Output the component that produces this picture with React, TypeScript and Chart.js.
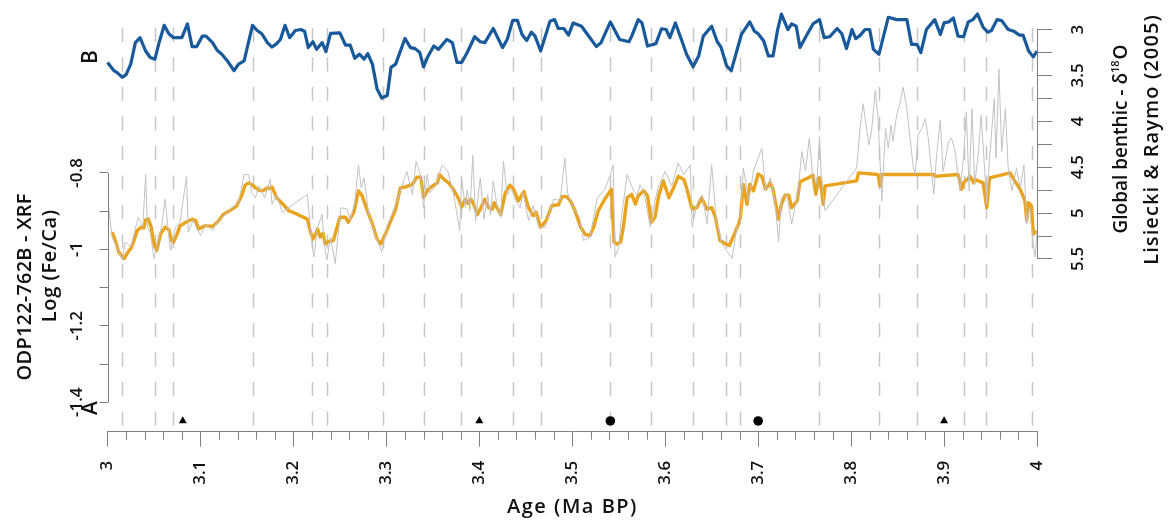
import React, { useEffect, useRef } from 'react';
import { Chart, registerables } from 'chart.js';

Chart.register(...registerables);

const W = 1173;
const H = 524;

// ---- axis ticks ----
const ageTicks = [3, 3.1, 3.2, 3.3, 3.4, 3.5, 3.6, 3.7, 3.8, 3.9, 4];
const ageTickLabels = ['3', '3.1', '3.2', '3.3', '3.4', '3.5', '3.6', '3.7', '3.8', '3.9', '4'];
const ageMinorTicks = [3.02, 3.04, 3.06, 3.08, 3.12, 3.14, 3.16, 3.18, 3.22, 3.24, 3.26, 3.28, 3.32, 3.34, 3.36, 3.38, 3.42, 3.44, 3.46, 3.48, 3.52, 3.54, 3.56, 3.58, 3.62, 3.64, 3.66, 3.68, 3.72, 3.74, 3.76, 3.78, 3.82, 3.84, 3.86, 3.88, 3.92, 3.94, 3.96, 3.98];
const feTicks = [-1.4, -1.3, -1.2, -1.1, -1.0, -0.9, -0.8];
const feTickLabels = ['-1.4', '', '-1.2', '', '-1', '', '-0.8'];
const d18oTicks = [3, 3.25, 3.5, 3.75, 4, 4.25, 4.5, 4.75, 5, 5.25, 5.5];
const d18oTickLabels = ['3', '', '3.5', '', '4', '', '4.5', '', '5', '', '5.5'];

// ---- vertical dashed reference lines (ages, Ma) ----
const dashAges = [3.016, 3.051, 3.070, 3.156, 3.220, 3.236, 3.296, 3.340, 3.380, 3.436, 3.466, 3.541, 3.585, 3.630, 3.665, 3.681, 3.765, 3.830, 3.871, 3.921, 3.945, 3.995];

// ---- age-control markers ----
const triangleAges = [3.081, 3.400, 3.900];
const circleAges = [3.541, 3.700];
const markerLevel = -1.449;

// ---- B: global benthic d18O (Lisiecki & Raymo 2005) ----
const d18oAge = [3.000,3.007,3.010,3.016,3.020,3.025,3.030,3.035,3.041,3.046,
3.051,3.055,3.061,3.066,3.071,3.080,3.086,3.091,3.096,3.102,
3.106,3.113,3.118,3.123,3.129,3.136,3.141,3.147,3.156,3.161,
3.166,3.172,3.177,3.182,3.186,3.191,3.196,3.202,3.208,3.212,
3.216,3.221,3.225,3.231,3.235,3.240,3.250,3.256,3.261,3.266,
3.271,3.276,3.280,3.285,3.290,3.295,3.301,3.305,3.310,3.320,
3.326,3.331,3.336,3.340,3.345,3.351,3.356,3.365,3.371,3.376,
3.381,3.387,3.395,3.401,3.406,3.415,3.425,3.430,3.436,3.441,
3.446,3.451,3.456,3.460,3.466,3.476,3.481,3.485,3.491,3.496,
3.501,3.510,3.519,3.526,3.531,3.541,3.551,3.561,3.564,3.571,
3.575,3.581,3.590,3.596,3.601,3.605,3.611,3.618,3.623,3.630,
3.636,3.641,3.650,3.656,3.660,3.666,3.671,3.677,3.682,3.691,
3.696,3.700,3.706,3.711,3.716,3.721,3.725,3.732,3.736,3.741,
3.745,3.752,3.759,3.766,3.771,3.777,3.785,3.790,3.795,3.801,
3.805,3.810,3.815,3.820,3.824,3.830,3.840,3.849,3.860,3.865,
3.871,3.875,3.881,3.890,3.896,3.900,3.905,3.910,3.915,3.921,
3.926,3.931,3.936,3.942,3.947,3.951,3.957,3.962,3.969,3.975,
3.981,3.985,3.991,3.996,4.000];
const d18oValue = [3.359,3.449,3.467,3.520,3.492,3.377,3.143,3.089,3.234,3.305,
3.323,3.162,2.954,3.046,3.089,3.089,2.939,3.186,3.186,3.072,
3.072,3.143,3.226,3.269,3.342,3.449,3.377,3.342,2.954,3.011,
3.046,3.143,3.191,3.154,3.108,2.954,3.089,3.011,3.000,3.018,
3.197,3.133,3.216,3.143,3.240,3.043,3.036,3.169,3.169,3.313,
3.269,3.323,3.262,3.377,3.647,3.747,3.719,3.413,3.377,3.097,
3.197,3.208,3.251,3.406,3.288,3.180,3.216,3.108,3.143,3.359,
3.359,3.251,3.079,3.133,3.143,2.989,3.197,3.108,2.900,2.900,
3.054,3.119,3.029,3.072,3.234,2.911,2.892,2.989,2.989,3.061,
2.928,2.964,3.089,3.186,3.143,2.917,3.108,3.133,3.072,2.892,
2.928,3.180,3.154,2.992,3.000,3.089,2.928,3.126,3.269,3.406,
3.288,3.072,2.964,3.133,3.191,3.395,3.449,3.234,3.054,2.917,
3.018,3.046,3.126,3.288,3.288,3.000,2.831,3.000,2.939,2.964,
3.197,3.065,2.939,2.892,3.089,3.079,2.989,3.046,3.208,3.000,
3.100,3.061,3.000,3.000,3.216,3.269,2.867,2.892,2.892,3.162,
3.162,3.251,3.000,2.892,3.054,2.928,2.917,2.874,3.072,3.079,
2.917,2.892,2.831,2.975,3.029,3.011,2.892,2.903,3.000,3.018,
3.061,3.061,3.234,3.298,3.234];

// ---- A: ODP122-762B XRF log(Fe/Ca), smoothed ----
const feSmoothAge = [3.005,3.009,3.012,3.018,3.021,3.025,3.028,3.032,3.036,3.039,
3.041,3.044,3.047,3.050,3.053,3.057,3.062,3.066,3.069,3.071,
3.075,3.078,3.086,3.091,3.095,3.098,3.105,3.113,3.118,3.125,
3.132,3.139,3.145,3.148,3.152,3.157,3.163,3.168,3.172,3.175,
3.177,3.182,3.188,3.195,3.204,3.215,3.218,3.221,3.224,3.226,
3.229,3.232,3.234,3.238,3.243,3.247,3.250,3.256,3.259,3.265,
3.270,3.274,3.279,3.285,3.290,3.294,3.299,3.304,3.310,3.315,
3.320,3.328,3.333,3.337,3.340,3.345,3.351,3.355,3.357,3.362,
3.367,3.372,3.378,3.381,3.385,3.388,3.391,3.394,3.398,3.401,
3.406,3.410,3.414,3.416,3.419,3.423,3.428,3.433,3.437,3.442,
3.448,3.453,3.458,3.461,3.466,3.472,3.478,3.482,3.485,3.489,
3.494,3.498,3.503,3.509,3.514,3.519,3.523,3.528,3.535,3.542,
3.545,3.548,3.552,3.555,3.559,3.564,3.568,3.571,3.577,3.581,
3.585,3.589,3.593,3.598,3.604,3.609,3.614,3.620,3.623,3.629,
3.634,3.639,3.645,3.650,3.654,3.659,3.665,3.669,3.673,3.679,
3.681,3.684,3.688,3.691,3.695,3.700,3.704,3.708,3.713,3.716,
3.722,3.725,3.729,3.733,3.736,3.742,3.745,3.752,3.759,3.762,
3.765,3.767,3.770,3.772,3.806,3.808,3.829,3.831,3.833,3.889,
3.890,3.915,3.919,3.921,3.928,3.932,3.933,3.942,3.946,3.949,
3.971,3.976,3.982,3.987,3.989,3.991,3.994,3.996,3.999];
const feSmooth = [-0.955,-0.981,-1.007,-1.024,-1.011,-0.998,-0.981,-0.951,-0.942,-0.944,
-0.923,-0.921,-0.942,-0.986,-1.003,-0.960,-0.942,-0.949,-0.977,-0.981,
-0.960,-0.938,-0.927,-0.921,-0.925,-0.947,-0.938,-0.940,-0.929,-0.908,
-0.898,-0.886,-0.856,-0.832,-0.826,-0.834,-0.846,-0.846,-0.839,-0.841,
-0.837,-0.865,-0.880,-0.899,-0.908,-0.921,-0.951,-0.973,-0.960,-0.947,
-0.968,-0.958,-0.986,-0.979,-0.977,-0.942,-0.916,-0.916,-0.929,-0.903,
-0.847,-0.860,-0.895,-0.934,-0.973,-0.986,-0.960,-0.929,-0.895,-0.839,
-0.837,-0.830,-0.811,-0.811,-0.865,-0.843,-0.832,-0.826,-0.804,-0.817,
-0.826,-0.843,-0.869,-0.889,-0.869,-0.880,-0.869,-0.882,-0.909,-0.895,
-0.869,-0.891,-0.895,-0.878,-0.891,-0.909,-0.852,-0.832,-0.843,-0.873,
-0.849,-0.891,-0.912,-0.903,-0.942,-0.925,-0.886,-0.884,-0.884,-0.862,
-0.862,-0.873,-0.899,-0.942,-0.961,-0.964,-0.942,-0.899,-0.869,-0.843,
-0.981,-0.986,-0.981,-0.942,-0.865,-0.856,-0.882,-0.860,-0.847,-0.860,
-0.929,-0.916,-0.860,-0.821,-0.865,-0.839,-0.809,-0.817,-0.839,-0.895,
-0.891,-0.865,-0.895,-0.891,-0.916,-0.977,-0.986,-0.990,-0.968,-0.934,
-0.916,-0.830,-0.882,-0.830,-0.847,-0.803,-0.809,-0.843,-0.826,-0.843,
-0.921,-0.882,-0.858,-0.858,-0.891,-0.873,-0.823,-0.815,-0.806,-0.856,
-0.813,-0.815,-0.882,-0.834,-0.821,-0.800,-0.804,-0.834,-0.804,-0.804,
-0.809,-0.804,-0.843,-0.826,-0.809,-0.826,-0.817,-0.826,-0.891,-0.813,
-0.800,-0.821,-0.843,-0.873,-0.925,-0.878,-0.886,-0.960,-0.951];

// ---- A: raw XRF log(Fe/Ca) ----
const feRawAge = [3.001,3.005,3.010,3.016,3.019,3.025,3.029,3.033,3.038,3.041,
3.043,3.046,3.050,3.054,3.058,3.062,3.066,3.068,3.073,3.078,
3.085,3.087,3.092,3.100,3.106,3.113,3.119,3.127,3.134,3.141,
3.147,3.152,3.155,3.159,3.163,3.169,3.175,3.177,3.182,3.188,
3.215,3.220,3.222,3.226,3.231,3.233,3.236,3.240,3.245,3.251,
3.258,3.261,3.266,3.270,3.273,3.276,3.281,3.287,3.295,3.301,
3.306,3.315,3.322,3.328,3.332,3.337,3.340,3.344,3.347,3.353,
3.360,3.366,3.372,3.379,3.381,3.385,3.387,3.390,3.393,3.396,
3.401,3.405,3.409,3.412,3.415,3.419,3.423,3.426,3.430,3.435,
3.439,3.444,3.447,3.453,3.458,3.464,3.471,3.480,3.487,3.492,
3.495,3.501,3.508,3.512,3.519,3.527,3.535,3.541,3.544,3.546,
3.550,3.553,3.559,3.566,3.570,3.573,3.577,3.584,3.589,3.593,
3.600,3.607,3.614,3.620,3.627,3.629,3.634,3.640,3.645,3.650,
3.655,3.661,3.666,3.672,3.677,3.681,3.684,3.690,3.695,3.700,
3.704,3.708,3.713,3.718,3.722,3.725,3.731,3.736,3.743,3.747,
3.751,3.755,3.759,3.763,3.766,3.768,3.772,3.806,3.810,3.813,
3.819,3.822,3.826,3.829,3.833,3.837,3.840,3.843,3.845,3.849,
3.852,3.856,3.860,3.863,3.867,3.869,3.872,3.876,3.880,3.883,
3.889,3.892,3.896,3.899,3.905,3.908,3.912,3.917,3.921,3.924,
3.927,3.930,3.933,3.937,3.940,3.946,3.949,3.954,3.956,3.959,
3.962,3.966,3.969,3.973,3.978,3.982,3.986,3.989,3.992,3.996,
3.998,4.000];
const feRaw = [-0.886,-0.968,-0.994,-1.028,-0.981,-0.994,-0.955,-0.916,-0.942,-0.804,
-0.942,-0.955,-1.024,-0.981,-0.942,-0.869,-0.968,-1.003,-0.942,-0.929,
-0.809,-0.955,-0.924,-0.964,-0.935,-0.950,-0.924,-0.909,-0.891,-0.878,
-0.804,-0.805,-0.852,-0.865,-0.834,-0.865,-0.817,-0.882,-0.857,-0.903,
-0.856,-0.986,-1.020,-0.942,-0.908,-0.981,-1.028,-0.968,-1.037,-0.891,
-0.895,-0.924,-0.878,-0.779,-0.839,-0.813,-0.908,-0.955,-1.007,-0.938,
-0.909,-0.847,-0.796,-0.856,-0.770,-0.808,-0.891,-0.804,-0.852,-0.834,
-0.779,-0.795,-0.852,-0.951,-0.813,-0.891,-0.844,-0.899,-0.753,-0.925,
-0.813,-0.921,-0.857,-0.911,-0.821,-0.885,-0.916,-0.770,-0.857,-0.844,
-0.872,-0.891,-0.852,-0.925,-0.885,-0.942,-0.942,-0.869,-0.872,-0.761,
-0.852,-0.891,-0.916,-0.977,-0.968,-0.865,-0.844,-0.804,-0.779,-1.020,
-0.994,-0.916,-0.804,-0.847,-0.857,-0.831,-0.848,-0.942,-0.872,-0.834,
-0.796,-0.834,-0.774,-0.805,-0.779,-0.942,-0.883,-0.857,-0.934,-0.779,
-0.924,-0.986,-1.003,-1.024,-0.942,-0.934,-0.787,-0.872,-0.795,-0.761,
-0.735,-0.847,-0.813,-0.872,-0.981,-0.865,-0.857,-0.934,-0.847,-0.744,
-0.795,-0.709,-0.813,-0.830,-0.705,-0.813,-0.899,-0.787,-0.675,-0.619,
-0.727,-0.691,-0.584,-0.658,-0.873,-0.684,-0.735,-0.675,-0.717,-0.649,
-0.623,-0.576,-0.632,-0.701,-0.787,-0.804,-0.701,-0.684,-0.658,-0.709,
-0.856,-0.753,-0.662,-0.796,-0.718,-0.709,-0.744,-0.847,-0.761,-0.640,
-0.847,-0.632,-0.830,-0.744,-0.649,-0.882,-0.761,-0.606,-0.761,-0.528,
-0.744,-0.632,-0.787,-0.847,-0.787,-0.839,-0.779,-0.934,-0.891,-0.986,
-1.020,-0.955];

// ---- styling ----
const TICK_FONT = '"Open Sans", "DejaVu Sans", sans-serif';
const TITLE_FONT = '"Open Sans", "DejaVu Sans", sans-serif';
const AXIS_COLOR = '#808080';
const TEXT_COLOR = '#111111';
const BLUE = '#17599b';
const ORANGE = '#e9a31d';
const RAW_GRAY = '#c2c2c2';
const DASH_GRAY = '#c6c6c6';

const CHART_LEFT = 107.5;
const CHART_RIGHT = 1037;
const CHART_BOTTOM = 431.7;

const pts = (xs: number[], ys: number[]) => xs.map((x, i) => ({ x, y: ys[i] }));

function rotatedText(ctx: CanvasRenderingContext2D, text: string, cx: number, cy: number, font: string, spacing = 0) {
  ctx.save();
  ctx.translate(cx, cy);
  ctx.rotate(-Math.PI / 2);
  ctx.font = font;
  (ctx as any).letterSpacing = `${spacing}px`;
  ctx.textAlign = 'center';
  ctx.textBaseline = 'middle';
  ctx.fillText(text, spacing / 2, 0);
  ctx.restore();
}

const decorPlugin = {
  id: 'decor',
  beforeDatasetsDraw(chart: any) {
    const ctx: CanvasRenderingContext2D = chart.ctx;
    const xs = chart.scales.x;
    ctx.save();
    ctx.strokeStyle = DASH_GRAY;
    ctx.lineWidth = 1.5;
    ctx.setLineDash([14, 15.5]);
    dashAges.forEach((a) => {
      const px = Math.round(xs.getPixelForValue(a)) + 0.5;
      ctx.beginPath();
      ctx.moveTo(px, 28);
      ctx.lineTo(px, 426);
      ctx.stroke();
    });
    ctx.restore();
  },
  afterDraw(chart: any) {
    const ctx: CanvasRenderingContext2D = chart.ctx;
    const { x: xs, yFe, yD } = chart.scales;
    const area = chart.chartArea;
    ctx.save();
    ctx.strokeStyle = AXIS_COLOR;
    ctx.lineWidth = 1;
    const lx = Math.round(area.left) + 0.5;
    ctx.beginPath();
    ctx.moveTo(lx, yFe.getPixelForValue(-0.8));
    ctx.lineTo(lx, yFe.getPixelForValue(-1.4));
    ctx.stroke();
    const rx = Math.round(area.right) + 0.5;
    ctx.beginPath();
    ctx.moveTo(rx, yD.getPixelForValue(3));
    ctx.lineTo(rx, yD.getPixelForValue(5.5));
    ctx.stroke();
    ageMinorTicks.forEach((a) => {
      const px = Math.round(xs.getPixelForValue(a)) + 0.5;
      ctx.beginPath();
      ctx.moveTo(px, area.bottom);
      ctx.lineTo(px, area.bottom + 8);
      ctx.stroke();
    });

    ctx.fillStyle = TEXT_COLOR;
    const tf = `600 20px ${TITLE_FONT}`;
    // x title
    ctx.save();
    ctx.font = tf;
    (ctx as any).letterSpacing = '1.5px';
    ctx.textAlign = 'center';
    ctx.textBaseline = 'middle';
    ctx.fillText('Age (Ma BP)', 572.5, 507);
    ctx.restore();
    // left titles
    rotatedText(ctx, 'ODP122-762B - XRF', 25, 287, tf, 0.2);
    rotatedText(ctx, 'Log (Fe/Ca)', 50, 266, tf, 0.6);
    // panel letters
    rotatedText(ctx, 'A', 91, 408, `600 21px ${TITLE_FONT}`);
    rotatedText(ctx, 'B', 91, 57, `600 21px ${TITLE_FONT}`);
    // right titles
    rotatedText(ctx, 'Lisiecki & Raymo (2005)', 1152, 140, tf, 1.1);
    {
      const p1 = 'Global benthic - δ';
      const p2 = '18';
      const p3 = 'O';
      const mf = `600 19px ${TITLE_FONT}`;
      const sf = `600 11px ${TITLE_FONT}`;
      ctx.save();
      ctx.translate(1122, 139);
      ctx.rotate(-Math.PI / 2);
      (ctx as any).letterSpacing = '0px';
      ctx.textBaseline = 'middle';
      ctx.textAlign = 'left';
      ctx.font = mf;
      const w1 = ctx.measureText(p1).width;
      const w3 = ctx.measureText(p3).width;
      ctx.font = sf;
      const w2 = ctx.measureText(p2).width;
      let x0 = -(w1 + w2 + w3 + 1) / 2;
      ctx.font = mf;
      ctx.fillText(p1, x0, 0);
      x0 += w1;
      ctx.font = sf;
      ctx.fillText(p2, x0, -6);
      x0 += w2 + 1;
      ctx.font = mf;
      ctx.fillText(p3, x0, 0);
      ctx.restore();
    }
    ctx.restore();
  },
};

export default function App() {
  const ref = useRef<HTMLCanvasElement>(null);

  useEffect(() => {
    const canvas = ref.current;
    if (!canvas) return;
    const tickFont = { family: TICK_FONT, size: 17, weight: '600' };
    const chart = new Chart(canvas, {
      type: 'line',
      data: {
        datasets: [
          {
            label: 'raw',
            data: pts(feRawAge, feRaw),
            yAxisID: 'yFe',
            borderColor: RAW_GRAY,
            borderWidth: 1,
            pointRadius: 0,
            tension: 0,
            clip: false,
          },
          {
            label: 'smooth',
            data: pts(feSmoothAge, feSmooth),
            yAxisID: 'yFe',
            borderColor: ORANGE,
            borderWidth: 3.4,
            pointRadius: 0,
            tension: 0,
            borderJoinStyle: 'round',
            clip: false,
          },
          {
            label: 'd18O',
            data: pts(d18oAge, d18oValue),
            yAxisID: 'yD',
            borderColor: BLUE,
            borderWidth: 3.2,
            pointRadius: 0,
            tension: 0,
            borderJoinStyle: 'round',
            clip: false,
          },
          {
            label: 'tri',
            data: triangleAges.map((a) => ({ x: a, y: markerLevel })),
            yAxisID: 'yFe',
            showLine: false,
            pointStyle: 'triangle',
            pointRadius: 4.6,
            pointBackgroundColor: '#000',
            pointBorderColor: '#000',
            pointBorderWidth: 0,
          },
          {
            label: 'circ',
            data: circleAges.map((a) => ({ x: a, y: markerLevel })),
            yAxisID: 'yFe',
            showLine: false,
            pointStyle: 'circle',
            pointRadius: 4.8,
            pointBackgroundColor: '#000',
            pointBorderColor: '#000',
            pointBorderWidth: 0,
          },
        ] as any,
      },
      options: {
        responsive: false,
        animation: false,
        events: [],
        layout: { padding: 0 },
        plugins: { legend: { display: false }, tooltip: { enabled: false }, title: { display: false } },
        scales: {
          x: {
            type: 'linear',
            position: 'bottom',
            min: 3,
            max: 4,
            afterBuildTicks: (s: any) => { s.ticks = ageTicks.map((v) => ({ value: v })); },
            afterFit: (s: any) => { s.height = H - CHART_BOTTOM; s.paddingLeft = 0; s.paddingRight = 0; },
            ticks: {
              autoSkip: false,
              minRotation: 90,
              maxRotation: 90,
              padding: 14,
              color: TEXT_COLOR,
              font: tickFont,
              callback: (_v: any, i: number) => ageTickLabels[i],
            },
            grid: { drawOnChartArea: false, drawTicks: true, tickLength: 15, color: AXIS_COLOR, tickColor: AXIS_COLOR },
            border: { display: true, color: AXIS_COLOR, width: 1 },
          },
          yFe: {
            type: 'linear',
            position: 'left',
            min: -1.47711,
            max: -0.36016,
            afterBuildTicks: (s: any) => { s.ticks = feTicks.map((v) => ({ value: v })); },
            afterFit: (s: any) => { s.width = CHART_LEFT; s.paddingTop = 0; s.paddingBottom = 0; },
            ticks: {
              autoSkip: false,
              minRotation: 90,
              maxRotation: 90,
              crossAlign: 'center',
              padding: 8,
              color: TEXT_COLOR,
              font: tickFont,
              callback: (_v: any, i: number) => feTickLabels[i],
            },
            grid: { drawOnChartArea: false, drawTicks: true, tickLength: 8, color: AXIS_COLOR, tickColor: AXIS_COLOR },
            border: { display: false },
          },
          yD: {
            type: 'linear',
            position: 'right',
            reverse: true,
            min: 2.7306,
            max: 7.38254,
            afterBuildTicks: (s: any) => { s.ticks = d18oTicks.map((v) => ({ value: v })); },
            afterFit: (s: any) => { s.width = W - CHART_RIGHT; s.paddingTop = 0; s.paddingBottom = 0; },
            ticks: {
              autoSkip: false,
              minRotation: 90,
              maxRotation: 90,
              crossAlign: 'center',
              padding: 14,
              color: TEXT_COLOR,
              font: tickFont,
              callback: (_v: any, i: number) => d18oTickLabels[i],
            },
            grid: { drawOnChartArea: false, drawTicks: true, tickLength: 15, color: AXIS_COLOR, tickColor: AXIS_COLOR },
            border: { display: false },
          },
        },
      } as any,
      plugins: [decorPlugin],
    });
    return () => chart.destroy();
  }, []);

  return (
    <div style={{ position: 'fixed', left: 0, top: 0, width: W, height: H, background: '#fff' }}>
      <canvas ref={ref} width={W} height={H} style={{ width: W, height: H, display: 'block' }} />
    </div>
  );
}
